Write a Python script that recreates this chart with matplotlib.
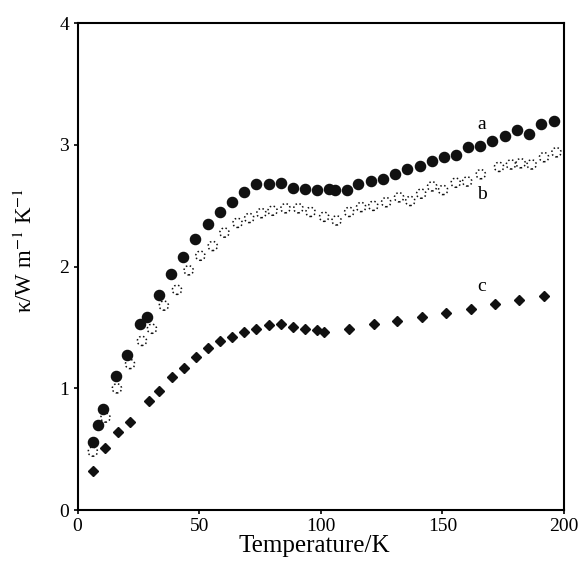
import matplotlib
matplotlib.use("Agg")
import matplotlib.pyplot as plt

plt.rcParams['font.family'] = ['Liberation Serif', 'DejaVu Serif']
plt.rcParams['mathtext.fontset'] = 'stix'

# Series a (filled circles)
a_T = [6.4, 8.5, 10.4, 15.7, 20.5, 25.5, 28.7, 33.6, 38.5, 43.5, 48.5, 53.8, 58.6,
       63.5, 68.6, 73.5, 78.6, 83.7, 88.4, 93.6, 98.6, 103.5, 105.7, 110.7, 115.5,
       120.6, 125.7, 130.6, 135.6, 140.7, 145.7, 150.5, 155.5, 160.6, 165.4, 170.6,
       175.6, 180.6, 185.6, 190.7, 195.9]
a_k = [0.56, 0.70, 0.83, 1.10, 1.27, 1.53, 1.59, 1.77, 1.94, 2.08, 2.23, 2.35, 2.45,
       2.53, 2.61, 2.68, 2.68, 2.69, 2.65, 2.64, 2.63, 2.64, 2.63, 2.63, 2.68,
       2.70, 2.72, 2.76, 2.80, 2.83, 2.87, 2.90, 2.92, 2.98, 2.99, 3.03,
       3.07, 3.12, 3.09, 3.17, 3.20]

# Series b (open dotted circles)
b_T = [6.3, 11.5, 16.2, 21.6, 26.5, 30.6, 35.5, 40.9, 45.7, 50.5, 55.6, 60.4, 65.8,
       70.6, 75.6, 80.2, 85.5, 90.8, 95.8, 101.4, 106.5, 111.7, 116.6, 121.6, 126.9,
       132.2, 136.8, 141.3, 145.8, 150.3, 155.5, 160.2, 165.8, 173.3, 178.2, 182.2,
       186.7, 191.8, 196.9]
b_k = [0.48, 0.76, 1.00, 1.20, 1.39, 1.49, 1.68, 1.81, 1.97, 2.09, 2.17, 2.28, 2.36,
       2.40, 2.44, 2.46, 2.48, 2.48, 2.45, 2.41, 2.38, 2.45, 2.49, 2.50, 2.53,
       2.57, 2.54, 2.60, 2.66, 2.63, 2.69, 2.70, 2.76, 2.82, 2.84, 2.85,
       2.84, 2.90, 2.94]

# Series c (diamonds)
c_T = [6.4, 11.4, 16.8, 21.6, 29.2, 33.5, 38.7, 43.7, 48.6, 53.7, 58.7, 63.7, 68.6,
       73.5, 78.6, 83.7, 88.4, 93.6, 98.6, 101.4, 111.7, 121.7, 131.5, 141.6, 151.7,
       161.8, 171.7, 181.5, 191.8]
c_k = [0.32, 0.51, 0.64, 0.72, 0.90, 0.98, 1.09, 1.17, 1.26, 1.33, 1.39, 1.42, 1.46,
       1.49, 1.52, 1.53, 1.50, 1.49, 1.48, 1.46, 1.49, 1.53, 1.55, 1.59, 1.62,
       1.65, 1.69, 1.73, 1.76]

series_labels = ['a', 'b', 'c']
label_pos_T = [166.2, 166.2, 166.2]
label_pos_k = [3.17, 2.59, 1.84]

x_ticks = [0, 50, 100, 150, 200]
y_ticks = [0, 1, 2, 3, 4]

fig = plt.figure(figsize=(5.81, 5.65), dpi=100)
ax = fig.add_axes([0.1334, 0.0973, 0.8373, 0.8615])

ax.plot(a_T, a_k, linestyle='none', marker='o', markersize=7.3,
        markerfacecolor='#111111', markeredgecolor='#111111')
ax.scatter(b_T, b_k, s=44, facecolors='none', edgecolors='#111111',
           linewidths=1.1, linestyles=(0, (1.0, 1.6)))
ax.plot(c_T, c_k, linestyle='none', marker='D', markersize=5.6,
        markerfacecolor='#111111', markeredgecolor='#111111')

for lab, tx, ky in zip(series_labels, label_pos_T, label_pos_k):
    ax.text(tx, ky, lab, fontsize=14, ha='center', va='center')

ax.set_xlim(0, 200)
ax.set_ylim(0, 4)
ax.set_xticks(x_ticks)
ax.set_yticks(y_ticks)
ax.tick_params(direction='out', length=3, width=1.2, labelsize=14,
               top=False, right=False, pad=3)
for sp in ax.spines.values():
    sp.set_linewidth(1.5)

ax.set_xlabel('Temperature/K', fontsize=18)
ax.xaxis.set_label_coords(0.487, -0.052)
ax.set_ylabel('κ/W m$^{-1}$ K$^{-1}$', fontsize=16.5)
ax.yaxis.set_label_coords(-0.083, 0.534)

fig.savefig('out.png', dpi=100)
